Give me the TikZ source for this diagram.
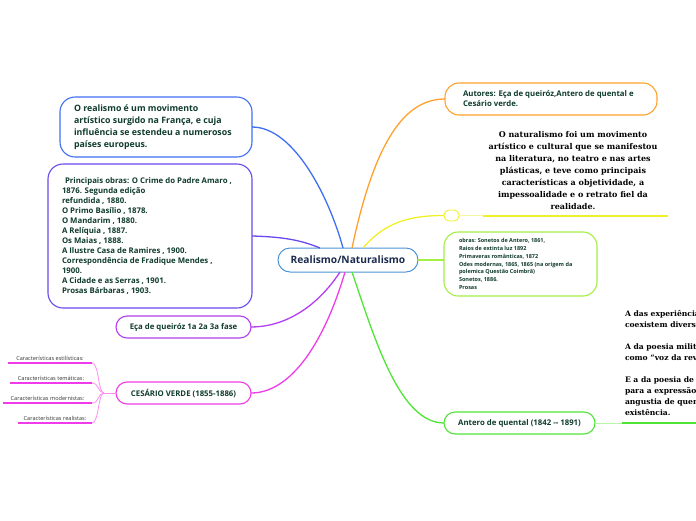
\documentclass[tikz,border=0pt]{standalone}
\usepackage{fontspec}
\newfontfamily\osans{Open Sans}
\newfontfamily\dser{DejaVu Serif}
\usetikzlibrary{calc}
\definecolor{cBlue}{HTML}{3F6FF2}
\definecolor{cIndigo}{HTML}{6A48EE}
\definecolor{cPurple}{HTML}{B33EF2}
\definecolor{cMagenta}{HTML}{F03CE8}
\definecolor{cFan}{HTML}{FF8CF5}
\definecolor{cOrange}{HTML}{FFA12B}
\definecolor{cYellow}{HTML}{F0F02A}
\definecolor{cYellowL}{HTML}{F6F6A8}
\definecolor{cLime}{HTML}{A2EF45}
\definecolor{cGreen}{HTML}{4FE535}
\definecolor{cGreenL}{HTML}{B4F7A4}
\definecolor{cCenter}{HTML}{4D94D6}
\definecolor{txtgreen}{HTML}{103C2C}
\definecolor{txtnavy}{HTML}{1B2B4D}
\begin{document}
\begin{tikzpicture}[x=1pt,y=-1pt,
  every node/.style={inner sep=0pt, outer sep=0pt},
  bx/.style={draw=#1, line width=1.1pt, fill=white, rounded corners=11pt},
  btxt/.style={text=txtgreen, align=left, font=\osans\bfseries\fontsize{7.8}{10}\selectfont},
  conn/.style={line width=1.3pt},
  fan/.style={draw=cFan, line width=0.8pt},
  chars/.style={text=black!80, font=\osans\fontsize{5.6}{6}\selectfont, inner ysep=2.2pt, anchor=south},
  uline/.style={draw=cMagenta, line width=1.4pt},
  sertxt/.style={text=black, font=\dser\bfseries\fontsize{8}{12}\selectfont}
]
\useasboundingbox (0,0) rectangle (696,520);
\clip (0,0) rectangle (696,520);

% ---------- central node
\node[bx=cCenter, line width=1pt, rounded corners=12pt, minimum width=140pt, minimum height=24pt,
  text=txtnavy, font=\osans\bfseries\fontsize{10.2}{11}\selectfont] (ctr) at (348,260) {Realismo/Naturalismo};

% ---------- left side boxes
\node[bx=cBlue, rounded corners=15pt, minimum width=192pt, minimum height=60pt] (b1) at (156,127) {};
\node[btxt, font=\osans\bfseries\fontsize{8.8}{12.2}\selectfont, anchor=west] (t1) at ([xshift=14pt]b1.west)
  {O realismo é um movimento\\artístico surgido na França, e cuja\\influência se estendeu a numerosos\\países europeus.};

\node[bx=cIndigo, rounded corners=15pt, minimum width=204pt, minimum height=144pt] (b2) at (150,236) {};
\node[btxt, anchor=west] (t2) at ([xshift=14pt]b2.west)
  {\hspace{3pt}Principais obras: O Crime do Padre Amaro ,\\1876. Segunda edição\\refundida , 1880.\\O Primo Basílio , 1878.\\O Mandarim , 1880.\\A Relíquia , 1887.\\Os Maias , 1888.\\A Ilustre Casa de Ramires , 1900.\\Correspondência de Fradique Mendes ,\\1900.\\A Cidade e as Serras , 1901.\\Prosas Bárbaras , 1903.};

\node[bx=cPurple, minimum width=135pt, minimum height=22pt, btxt, align=center] (eca) at (183.5,327) {Eça de queiróz 1a 2a 3a fase};
\node[bx=cMagenta, minimum width=135pt, minimum height=22pt, btxt, align=center] (ces) at (183.5,393) {CESÁRIO VERDE (1855-1886)};

% ---------- características
\node[chars, minimum width=84pt] (c1) at (50,363) {Características estilísticas:};
\node[chars, minimum width=82pt] (c2) at (51,383) {Características temáticas:};
\node[chars, minimum width=89pt] (c3) at (47.5,403) {Características modernistas:};
\node[chars, minimum width=74pt] (c4) at (55,423) {Características realistas:};
\draw[uline] (c1.south west) -- (c1.south east);
\draw[uline] (c2.south west) -- (c2.south east);
\draw[uline] (c3.south west) -- (c3.south east);
\draw[uline] (c4.south west) -- (c4.south east);
\coordinate (jn) at (104,393);
\draw[fan] (ces.west) -- (jn);
\draw[fan] (jn) .. controls (98,393) and (99,363) .. (c1.south east);
\draw[fan] (jn) .. controls (98,393) and (99,383) .. (c2.south east);
\draw[fan] (jn) .. controls (98,393) and (99,403) .. (c3.south east);
\draw[fan] (jn) .. controls (98,393) and (99,423) .. (c4.south east);

% ---------- right side
\node[bx=cOrange, rounded corners=14pt, minimum width=212pt, minimum height=32pt] (aut) at (551,99) {};
\node[btxt, anchor=west] (taut) at ([xshift=18pt]aut.west) {Autores: Eça de queiróz,Antero de quental e\\Cesário verde.};

\node[sertxt, align=center] (nat) at (573,171) {O naturalismo foi um movimento\\artístico e cultural que se manifestou\\na literatura, no teatro e nas artes\\plásticas, e teve como principais\\características a objetividade, a\\impessoalidade e o retrato fiel da\\realidade.};

\node[bx=cYellow, line width=0.9pt, rounded corners=5pt, minimum width=15pt, minimum height=11pt] (ybox) at (451.5,215.5) {};
\coordinate (ymid) at (483,215.5);
\coordinate (yend) at (668,215.5);
\draw[draw=cYellowL, line width=0.8pt] (ybox.east) -- (ymid);
\draw[draw=cYellow, line width=2pt] (ymid) -- (yend);

\node[bx=cLime, rounded corners=14pt, minimum width=153pt, minimum height=64pt] (obr) at (520.5,264) {};
\node[btxt, font=\osans\bfseries\fontsize{5.5}{7.7}\selectfont, anchor=west] (tobr) at ([xshift=15pt]obr.west)
  {obras: Sonetos de Antero, 1861,\\Raios de extinta luz 1892\\Primaveras românticas, 1872\\Odes modernas, 1865, 1865 (na origem da\\polemica Questão Coimbrã)\\Sonetos, 1886.\\Prosas};

\node[bx=cGreen, minimum width=151pt, minimum height=22pt, btxt, align=center] (ant) at (519.5,423) {Antero de quental (1842 -- 1891)};
\coordinate (gmid) at (622,423);
\coordinate (gend) at (698,423);
\draw[draw=cGreenL, line width=1pt] (ant.east) -- (gmid);
\draw[draw=cGreen, line width=2pt] (gmid) -- (gend);

\node[sertxt, font=\dser\bfseries\fontsize{7.6}{11}\selectfont, align=left, anchor=north west] (rtx) at (625,310)
  {A das experiências\\coexistem diversas\\[11pt]A da poesia militante\\como “voz da revolução\\[11pt]E a da poesia de todo\\para a expressão da\\angustia de quem\\existência.};

% ---------- connectors
\draw[conn, cBlue] (b1.east) .. controls (295,127) and (330,200) .. ([xshift=-5pt]ctr.north);
\draw[conn, cIndigo] (b2.east) .. controls (290,237) and (305,242) .. ([xshift=-28pt]ctr.north);
\draw[conn, cPurple] ([xshift=-8pt]ctr.south) .. controls (315,310) and (282,327) .. (eca.east);
\draw[conn, cMagenta] ([xshift=-3pt]ctr.south) .. controls (325,340) and (292,393) .. (ces.east);
\draw[conn, cOrange] ([xshift=4pt]ctr.north) .. controls (375,140) and (405,99) .. (aut.west);
\draw[conn, cYellow] ([xshift=15pt]ctr.north) .. controls (385,222) and (410,215.5) .. (ybox.west);
\draw[conn, cLime] (ctr.east) -- (ctr.east -| obr.west);
\draw[conn, cGreen] ([xshift=4pt]ctr.south) .. controls (375,340) and (400,423) .. (ant.west);
\end{tikzpicture}
\end{document}
